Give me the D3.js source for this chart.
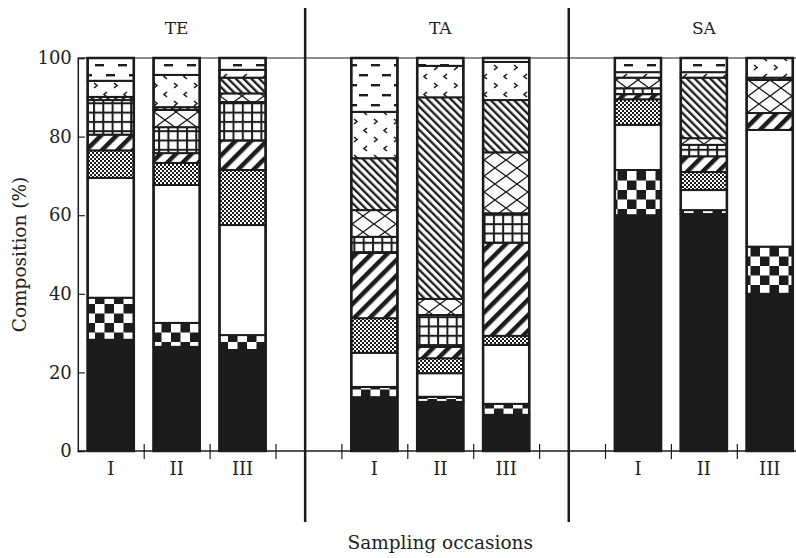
<!DOCTYPE html>
<html>
<head>
<meta charset="utf-8">
<script src="https://cdn.jsdelivr.net/npm/d3@7"></script>
<style>
    body { margin: 0; background: #fff; }
    svg text { font-family: "DejaVu Serif", serif; fill: #222; }
</style>
</head>
<body>
<div id="chart"></div>
<script>
const groups = ["TE", "TA", "SA"]
const occasions = ["I", "II", "III"]
const yTicks = [0, 20, 40, 60, 80, 100]

// composition (%) per bar, stacked bottom to top
// bar order: TE I, TE II, TE III, TA I, TA II, TA III, SA I, SA II, SA III
const solid       = [28.3, 26.5, 25.7, 13.7, 12.5,  9.2, 60.0, 60.3, 40.0]
const checker     = [10.7,  6.1,  3.8,  2.6,  1.3,  2.8, 11.5,  1.0, 12.0]
const blank       = [30.5, 35.1, 28.0,  8.7,  6.0, 15.0, 11.5,  5.1, 29.7]
const stipple     = [ 7.0,  5.6, 14.0,  8.8,  3.8,  2.3,  6.5,  4.6,  0.0]
const thickStripe = [ 4.0,  2.5,  7.5, 16.6,  2.9, 23.7,  1.3,  4.0,  4.3]
const grid        = [ 8.8,  6.6,  9.8,  4.1,  8.1,  7.5,  1.5,  2.9,  0.0]
const lattice     = [ 0.0,  4.4,  2.2,  6.8,  4.1, 15.5,  2.7,  1.7,  8.4]
const fineStripe  = [ 0.8,  0.7,  4.0, 13.2, 51.3, 13.3,  0.0, 15.4,  0.6]
const chevron     = [ 4.1,  8.2,  2.0, 11.8,  8.0,  9.7,  1.4,  1.4,  5.0]
const dash        = [ 5.8,  4.3,  3.0, 13.7,  2.0,  1.0,  3.6,  3.6,  0.0]

const series = {solid, checker, blank, stipple, thickStripe, grid, lattice, fineStripe, chevron, dash}
const keys = Object.keys(series)

const rows = []
groups.forEach((g, gi) => occasions.forEach((o, oi) => {
    const i = gi * 3 + oi
    const row = {group: g, occasion: o, slot: gi * 4 + oi}
    keys.forEach(k => row[k] = series[k][i])
    rows.push(row)
}))

const width = 796, height = 558
const svg = d3.select("#chart").append("svg")
    .attr("width", width)
    .attr("height", height)

const x = d3.scaleLinear().domain([0, 12]).range([77.8, 77.8 + 12 * 65.9])
const y = d3.scaleLinear().domain([0, 100]).range([451, 58])

// fill patterns
const defs = svg.append("defs")
function pattern(id, w, h, transform, draw) {
    const p = defs.append("pattern")
        .attr("id", id)
        .attr("patternUnits", "userSpaceOnUse")
        .attr("width", w)
        .attr("height", h)
    if (transform) p.attr("patternTransform", transform)
    p.append("rect").attr("width", w).attr("height", h).attr("fill", "#fff")
    draw(p)
}
const ink = "#1c1c1c"
pattern("p-checker", 19, 19, null, p => {
    p.append("rect").attr("x", 9.5).attr("y", 0).attr("width", 9.5).attr("height", 9.5).attr("fill", ink)
    p.append("rect").attr("x", 0).attr("y", 9.5).attr("width", 9.5).attr("height", 9.5).attr("fill", ink)
})
pattern("p-stipple", 4, 4, null, p => {
    p.append("rect").attr("width", 2).attr("height", 2).attr("fill", ink)
    p.append("rect").attr("x", 2).attr("y", 2).attr("width", 2).attr("height", 2).attr("fill", ink)
})
pattern("p-thickStripe", 11, 11, "rotate(45)", p => {
    p.append("rect").attr("width", 4.5).attr("height", 11).attr("fill", ink)
})
pattern("p-fineStripe", 5.5, 5.5, "rotate(-45)", p => {
    p.append("rect").attr("width", 2.3).attr("height", 5.5).attr("fill", ink)
})
pattern("p-grid", 9.3, 9.3, null, p => {
    p.append("rect").attr("width", 9.3).attr("height", 2).attr("fill", ink)
    p.append("rect").attr("width", 2).attr("height", 9.3).attr("fill", ink)
})
pattern("p-lattice", 22, 16, null, p => {
    p.append("path").attr("d", "M0,0L22,16M22,0L0,16")
        .attr("stroke", ink).attr("stroke-width", 1.4).attr("fill", "none")
})
pattern("p-chevron", 20, 18, null, p => {
    p.append("path").attr("d", "M7,2l-3,2.5l3,2.5M14,11l3,2.5l-3,2.5")
        .attr("stroke", ink).attr("stroke-width", 1.6).attr("fill", "none")
})
pattern("p-dash", 23, 20, null, p => {
    p.append("rect").attr("x", 3).attr("y", 4).attr("width", 9).attr("height", 2.4).attr("fill", ink)
    p.append("rect").attr("x", 14).attr("y", 14).attr("width", 9).attr("height", 2.4).attr("fill", ink)
})
const fillFor = k => k === "solid" ? ink : k === "blank" ? "#fff" : `url(#p-${k})`

// stacked bars
const stacked = d3.stack().keys(keys)(rows)
const barX = d => x(d.data.slot + 0.15)
const barW = x(0.85) - x(0.15)

svg.append("g")
    .selectAll("g")
    .data(stacked)
    .join("g")
    .attr("fill", d => fillFor(d.key))
    .selectAll("rect")
    .data(d => d.filter(s => s[1] - s[0] > 0))
    .join("rect")
    .attr("x", barX)
    .attr("width", barW)
    .attr("y", d => y(d[1]))
    .attr("height", d => y(d[0]) - y(d[1]))
    .attr("stroke", ink)
    .attr("stroke-width", 2)

svg.append("g")
    .selectAll("rect")
    .data(rows)
    .join("rect")
    .attr("x", d => x(d.slot + 0.15))
    .attr("width", barW)
    .attr("y", y(100))
    .attr("height", y(0) - y(100))
    .attr("fill", "none")
    .attr("stroke", ink)
    .attr("stroke-width", 2.5)

// frame line at the top
svg.append("line")
    .attr("x1", x(0)).attr("x2", width)
    .attr("y1", y(100)).attr("y2", y(100))
    .attr("stroke", ink).attr("stroke-width", 1.2)

// y axis
svg.append("g")
    .attr("transform", `translate(${x(0)},0)`)
    .call(d3.axisLeft(y).tickValues(yTicks).tickSize(-7).tickPadding(6))
    .call(g => g.select(".domain").attr("stroke", ink).attr("stroke-width", 1.5))
    .call(g => g.selectAll(".tick line").attr("stroke", ink).attr("stroke-width", 1.2))
    .call(g => g.selectAll("text").attr("font-size", 18).attr("font-family", "DejaVu Serif").attr("fill", "#222"))

// x axis: ticks cross the line at slot boundaries
const xAxis = svg.append("g")
    .attr("transform", `translate(0,${y(0)})`)
    .call(d3.axisBottom(x).tickValues(d3.range(1, 12)).tickSize(8).tickFormat(""))
xAxis.select(".domain").attr("d", `M${x(0)},0H${width}`).attr("stroke", ink).attr("stroke-width", 1.5)
xAxis.selectAll(".tick line").attr("y1", -7).attr("stroke", ink).attr("stroke-width", 1.2)

svg.append("g")
    .selectAll("text")
    .data(rows)
    .join("text")
    .attr("x", d => x(d.slot + 0.5))
    .attr("y", 475)
    .attr("text-anchor", "middle")
    .attr("font-size", 18)
    .text(d => d.occasion)

// group labels and separators
svg.append("g")
    .selectAll("text")
    .data(groups)
    .join("text")
    .attr("x", (d, i) => x(i * 4 + 1.5))
    .attr("y", 34)
    .attr("text-anchor", "middle")
    .attr("font-size", 17)
    .text(d => d)

svg.append("g")
    .selectAll("line")
    .data([1, 2])
    .join("line")
    .attr("x1", d => x(d * 4 - 0.55))
    .attr("x2", d => x(d * 4 - 0.55))
    .attr("y1", 8)
    .attr("y2", 522)
    .attr("stroke", ink)
    .attr("stroke-width", 2.5)

svg.append("text")
    .attr("x", x(5.5))
    .attr("y", 549)
    .attr("text-anchor", "middle")
    .attr("font-size", 18.5)
    .text("Sampling occasions")

svg.append("text")
    .attr("transform", `translate(26,${(y(0) + y(100)) / 2}) rotate(-90)`)
    .attr("text-anchor", "middle")
    .attr("font-size", 18.5)
    .text("Composition (%)")
</script>
</body>
</html>
